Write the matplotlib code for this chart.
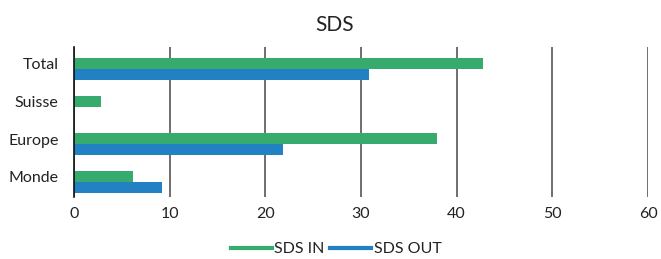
import matplotlib
matplotlib.use("Agg")
import matplotlib.pyplot as plt
import numpy as np
from matplotlib.lines import Line2D

plt.rcParams['font.family'] = ['Lato', 'DejaVu Sans']

categories = ["Total", "Suisse", "Europe", "Monde"]
sds_in = [42.8, 2.8, 37.9, 6.2]
sds_out = [30.8, 0, 21.8, 9.2]
xticks = [0, 10, 20, 30, 40, 50, 60]

green = "#37AB6E"
blue = "#2281C3"

fig = plt.figure(figsize=(6.61, 2.59), dpi=100)
W, H = 661, 259
ax = fig.add_axes([74 / W, 1 - 197 / H, (648 - 74) / W, (197 - 47) / H])

y = np.arange(len(categories))
h = 0.292
ax.barh(y - h / 2, sds_in, height=h, color=green, label="SDS IN", zorder=3)
ax.barh(y + h / 2, sds_out, height=h, color=blue, label="SDS OUT", zorder=3)

ax.set_xlim(0, 60)
ax.set_ylim(3.398, -0.584)
ax.set_xticks(xticks)
ax.set_yticks(y - 0.14)
ax.set_yticklabels(categories)
ax.tick_params(axis='both', length=0, labelsize=11.5, colors="#222222")
ax.tick_params(axis='x', pad=7)
ax.tick_params(axis='y', pad=11)
ax.grid(axis='x', color="#555555", linewidth=1.2, zorder=0)
ax.grid(axis='y', visible=False)
for s in ["top", "right", "bottom"]:
    ax.spines[s].set_visible(False)
ax.spines["left"].set_color("#111111")
ax.spines["left"].set_linewidth(1.2)
ax.spines["left"].set_zorder(4)

fig.text(335 / W, 1 - 25 / H, "SDS", ha="center", va="center", fontsize=15, color="#222222")

handles = [Line2D([0], [0], color=green, lw=3), Line2D([0], [0], color=blue, lw=3)]
fig.legend(handles, ["SDS IN", "SDS OUT"], loc="center", bbox_to_anchor=(336 / W, 1 - 249 / H),
           ncol=2, frameon=False, fontsize=11.5, handlelength=2.6, handletextpad=0.15,
           columnspacing=0.3, labelcolor="#222222")

fig.savefig("out.png", dpi=100)
